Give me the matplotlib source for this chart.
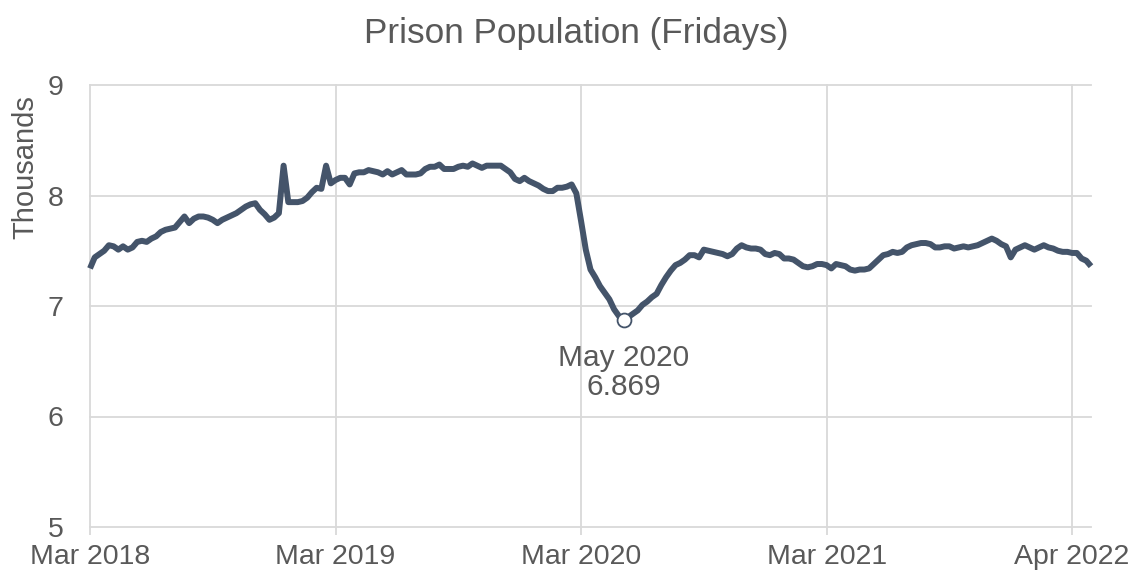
import matplotlib
matplotlib.use("Agg")
import matplotlib.pyplot as plt

# ---- data (weekly, Fridays; thousands) ----
start_date = "2018-03-02"
population = [
    7.34, 7.44, 7.47, 7.50, 7.55, 7.54, 7.51, 7.54, 7.51, 7.53,
    7.58, 7.59, 7.58, 7.61, 7.63, 7.67, 7.69, 7.70, 7.71, 7.76,
    7.81, 7.75, 7.79, 7.81, 7.81, 7.80, 7.78, 7.75, 7.78, 7.80,
    7.82, 7.84, 7.87, 7.90, 7.92, 7.93, 7.87, 7.83, 7.78, 7.80,
    7.84, 8.27, 7.94, 7.94, 7.94, 7.95, 7.98, 8.03, 8.07, 8.06,
    8.27, 8.11, 8.14, 8.16, 8.16, 8.10, 8.20, 8.21, 8.21, 8.23,
    8.22, 8.21, 8.19, 8.22, 8.19, 8.21, 8.23, 8.19, 8.19, 8.19,
    8.20, 8.24, 8.26, 8.26, 8.28, 8.24, 8.24, 8.24, 8.26, 8.27,
    8.26, 8.29, 8.27, 8.25, 8.27, 8.27, 8.27, 8.27, 8.24, 8.21,
    8.15, 8.13, 8.16, 8.13, 8.11, 8.09, 8.06, 8.04, 8.04, 8.07,
    8.07, 8.08, 8.10, 8.02, 7.77, 7.51, 7.33, 7.26, 7.18, 7.12,
    7.06, 6.97, 6.91, 6.869, 6.90, 6.93, 6.96, 7.01, 7.04, 7.08,
    7.11, 7.19, 7.26, 7.32, 7.37, 7.39, 7.42, 7.46, 7.46, 7.44,
    7.51, 7.50, 7.49, 7.48, 7.47, 7.45, 7.47, 7.52, 7.55, 7.53,
    7.52, 7.52, 7.51, 7.47, 7.46, 7.48, 7.47, 7.43, 7.43, 7.42,
    7.39, 7.36, 7.35, 7.36, 7.38, 7.38, 7.37, 7.34, 7.38, 7.37,
    7.36, 7.33, 7.32, 7.33, 7.33, 7.34, 7.38, 7.42, 7.46, 7.47,
    7.49, 7.48, 7.49, 7.53, 7.55, 7.56, 7.57, 7.57, 7.56, 7.53,
    7.53, 7.54, 7.54, 7.52, 7.53, 7.54, 7.53, 7.54, 7.55, 7.57,
    7.59, 7.61, 7.59, 7.56, 7.54, 7.44, 7.51, 7.53, 7.55, 7.53,
    7.51, 7.53, 7.55, 7.53, 7.52, 7.50, 7.49, 7.49, 7.48, 7.48,
    7.43, 7.41, 7.36,
]
tick_weeks = [0, 52, 104, 156, 208]
tick_labels = ["Mar 2018", "Mar 2019", "Mar 2020", "Mar 2021", "Apr 2022"]
y_ticks = [5, 6, 7, 8, 9]
min_label = "May 2020"

weeks = list(range(len(population)))
min_idx = min(range(len(population)), key=lambda i: population[i])

# ---- style ----
plt.rcParams["font.family"] = ["Liberation Sans", "DejaVu Sans"]
TXT = "#595959"
GRID = "#d9d9d9"
LINE = "#44546A"

fig = plt.figure(figsize=(11.34, 5.74), dpi=100)
ax = fig.add_axes([90 / 1134, 1 - 527 / 574, (1091 - 90) / 1134, (527 - 85) / 574])

ax.plot(weeks, population, color=LINE, lw=4.3, solid_joinstyle="round",
        solid_capstyle="butt", zorder=3, clip_on=False)
ax.plot([weeks[min_idx]], [population[min_idx]], "o", ms=10, mfc="white",
        mec=LINE, mew=1.3, zorder=4, clip_on=False)

ax.set_xlim(0, len(population) - 1)
ax.set_ylim(5, 9)
ax.set_xticks(tick_weeks)
ax.set_xticklabels(tick_labels)
ax.set_yticks(y_ticks)
ax.set_yticklabels([str(v) for v in y_ticks])

for s in ax.spines.values():
    s.set_visible(False)
ax.grid(True, color=GRID, lw=1.3, zorder=0)
for gl in ax.get_xgridlines() + ax.get_ygridlines():
    gl.set_clip_on(False)
ax.set_axisbelow(True)

ax.tick_params(axis="x", length=6, width=1.3, color=GRID, colors=TXT,
               labelsize=20.5, pad=6)
ax.tick_params(axis="x", color=GRID)
ax.tick_params(axis="y", length=0, labelsize=20.5, pad=19, colors=TXT)

ax.set_ylabel("Thousands", fontsize=21, color=TXT)
ax.yaxis.set_label_coords(-0.065, 0.814)
ax.yaxis.label.set_va("center")

ax.annotate(f"{min_label}\n{population[min_idx]:.3f}",
            xy=(weeks[min_idx], population[min_idx]),
            xytext=(0, -17), textcoords="offset points",
            ha="center", va="top", fontsize=21.5, color=TXT, linespacing=1.05)

fig.text(576 / 1134, 1 - 34 / 574, "Prison Population (Fridays)",
         ha="center", va="center", fontsize=25.3, color=TXT)

fig.savefig("out.png", dpi=100)
